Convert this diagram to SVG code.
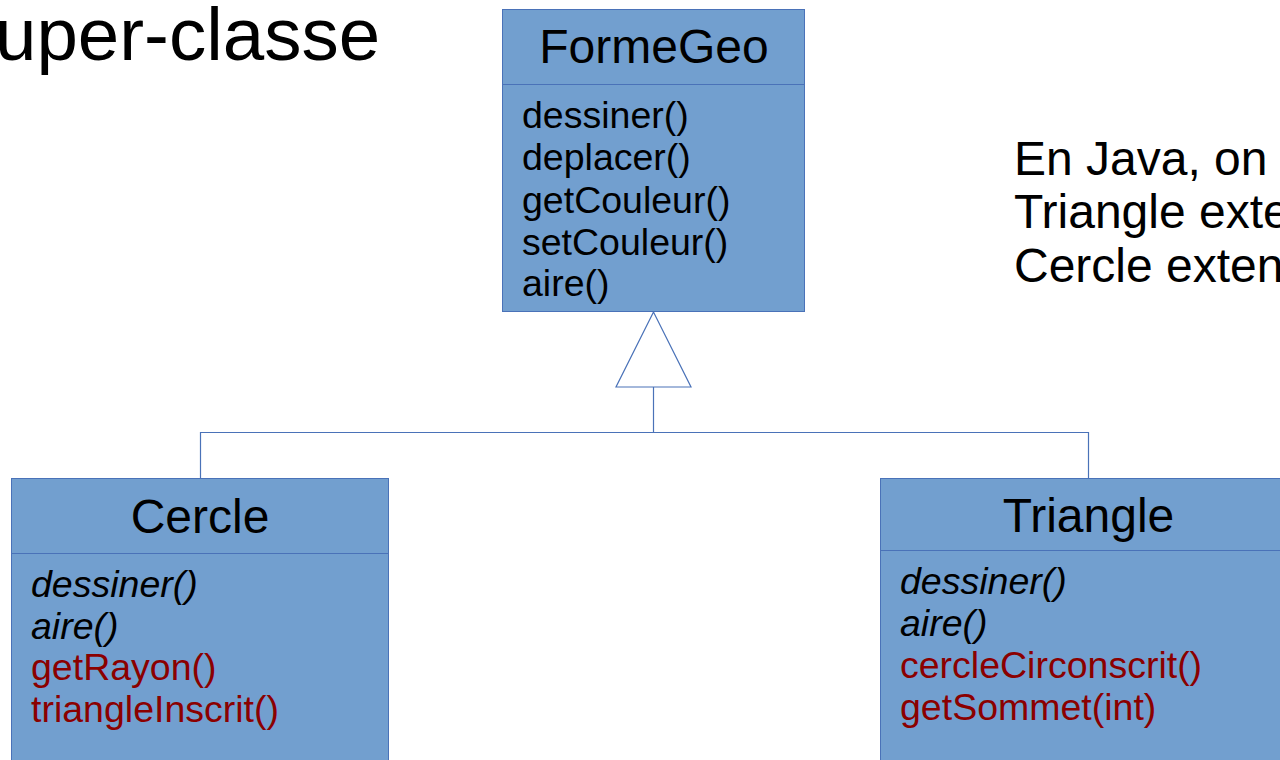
<svg xmlns="http://www.w3.org/2000/svg" width="1280" height="760" viewBox="0 0 1280 760">
<style>
.box{fill:#729fcf;stroke:#4a72b8;stroke-width:1}
.div{stroke:#4a72b8;stroke-width:1}
.title{font-family:"Liberation Sans",Arial,sans-serif;font-size:48px;fill:#000;text-anchor:middle}
.m{font-family:"Liberation Sans",Arial,sans-serif;font-size:37.5px;fill:#000}
.i{font-style:italic}
.r{fill:#8b0000}
.big{font-family:"Liberation Sans",Arial,sans-serif;fill:#000}
.conn{fill:none;stroke:#4a72b8;stroke-width:1.2}
</style>
<rect width="1280" height="760" fill="#fff"/>
<text class="big" x="-5" y="60" font-size="74.5">uper-classe</text>
<g class="big" font-size="48">
<text x="1014" y="175">En Java, on</text>
<text x="1014" y="228">Triangle exte</text>
<text x="1014" y="282">Cercle exten</text>
</g>
<g id="connectors">
<polygon class="conn" points="653.5,312 616,387 691,387" fill="#fff"/>
<polyline class="conn" points="653.5,387 653.5,432.5"/>
<polyline class="conn" points="200.5,478 200.5,432.5 1088.5,432.5 1088.5,478"/>
</g>
<g id="FormeGeo">
<rect class="box" x="502.5" y="9.5" width="302" height="302"/>
<line class="div" x1="502.5" y1="84.5" x2="804.5" y2="84.5"/>
<text class="title" x="654" y="63">FormeGeo</text>
<text class="m" x="522" y="128">dessiner()</text>
<text class="m" x="522" y="170">deplacer()</text>
<text class="m" x="522" y="213">getCouleur()</text>
<text class="m" x="522" y="255">setCouleur()</text>
<text class="m" x="522" y="296">aire()</text>
</g>
<g id="Cercle">
<rect class="box" x="11.5" y="478.5" width="377" height="300"/>
<line class="div" x1="11.5" y1="553.5" x2="388.5" y2="553.5"/>
<text class="title" x="200" y="533">Cercle</text>
<text class="m i" x="31" y="597">dessiner()</text>
<text class="m i" x="31" y="639">aire()</text>
<text class="m r" x="31" y="680">getRayon()</text>
<text class="m r" x="31" y="722">triangleInscrit()</text>
</g>
<g id="Triangle">
<rect class="box" x="880.5" y="478.5" width="420" height="300"/>
<line class="div" x1="880.5" y1="550.5" x2="1280" y2="550.5"/>
<text class="title" x="1088.5" y="532">Triangle</text>
<text class="m i" x="900" y="594">dessiner()</text>
<text class="m i" x="900" y="636">aire()</text>
<text class="m r" x="900" y="678">cercleCirconscrit()</text>
<text class="m r" x="900" y="720">getSommet(int)</text>
</g>
</svg>
